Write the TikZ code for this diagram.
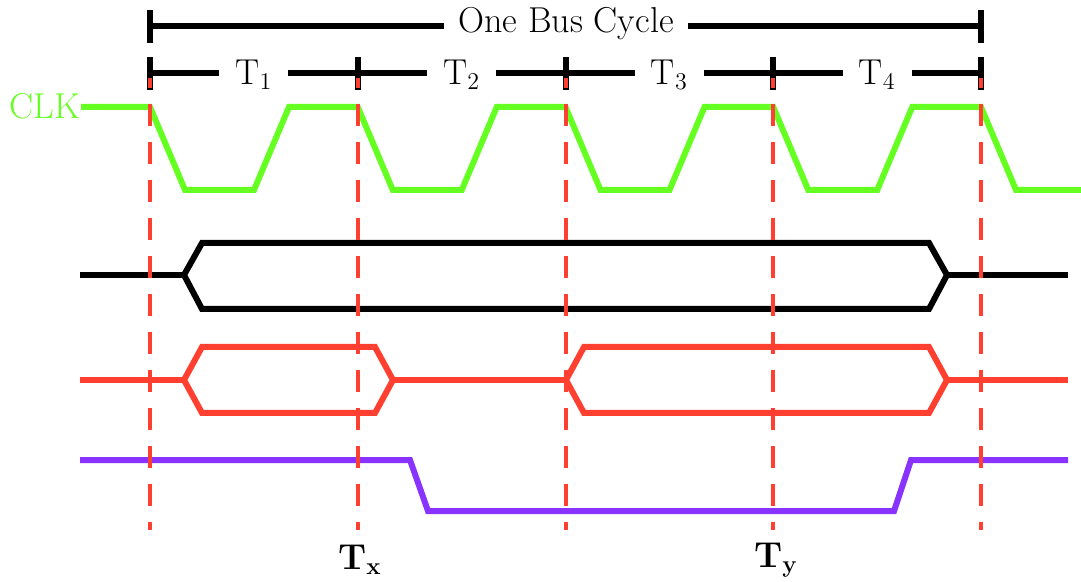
\documentclass[tikz,border=0pt]{standalone}
\usepackage{tikz}
\usetikzlibrary{positioning,calc}
\definecolor{clkgreen}{HTML}{66FF22}
\definecolor{sigred}{HTML}{FF4030}
\definecolor{sigpurple}{HTML}{8833FF}

\begin{document}
\begin{tikzpicture}[
  x=0.5pt,y=-0.5pt,
  wave/.style={line width=3pt,line join=miter},
  tick/.style={draw=black,line width=3pt},
  guide/.style={draw=sigred,line width=2pt,dash pattern=on 11pt off 8pt,dash phase=6pt},
  lbl/.style={font=\fontsize{18}{21}\selectfont,fill=white,inner ysep=1pt}
]
\useasboundingbox (0,0) rectangle (1081,582);
% bus cycle bracket
\draw[tick] (150,26) -- (981,26);
\draw[tick] (150,10) -- (150,43);
\draw[tick] (981,10) -- (981,43);
\node[lbl,inner xsep=7pt] (cyc) at (566,24) {One Bus Cycle};
% T-state brackets
\draw[tick] (150,73) -- (981,73);
\foreach \k in {0,...,4}
  \draw[tick] ({150+207.75*\k},57) -- ({150+207.75*\k},90);
\foreach \k/\name in {1/t1,2/t2,3/t3,4/t4}
  \node[lbl,inner xsep=8pt] (\name) at ({150+207.75*(\k-0.5)},75) {T$_{\k}$};
% clock
\node[text=clkgreen,font=\fontsize{18}{21}\selectfont,anchor=east,inner sep=0pt] (clk) at (81,106) {CLK};
\draw[wave,draw=clkgreen] (clk.east |- 0,107)
  \foreach \k in {0,...,3} {
    -- ({150+207.75*\k},107) -- ({185+207.75*\k},190)
    -- ({254+207.75*\k},190) -- ({289+207.75*\k},107)
  } -- (981,107) -- (1016,190) -- (1081,190);
% address bus
\draw[wave,draw=black] (80,275) -- (184,275);
\draw[wave,draw=black] (184,275) -- (202,243) -- (929,243) -- (947,275)
  -- (929,309) -- (202,309) -- cycle;
\draw[wave,draw=black] (947,275) -- (1068,275);
% data bus
\draw[wave,draw=sigred] (80,380) -- (184,380);
\draw[wave,draw=sigred] (184,380) -- (202,347) -- (375,347) -- (393,380)
  -- (375,413) -- (202,413) -- cycle;
\draw[wave,draw=sigred] (393,380) -- (566,380);
\draw[wave,draw=sigred] (566,380) -- (584,347) -- (929,347) -- (947,380)
  -- (929,413) -- (584,413) -- cycle;
\draw[wave,draw=sigred] (947,380) -- (1068,380);
% control
\draw[wave,draw=sigpurple] (80,460) -- (410,460) -- (428,511) -- (894,511) -- (911,460) -- (1068,460);
% guide lines
\foreach \k/\name in {0/g0,1/g1,2/g2,3/g3,4/g4} {
  \coordinate (\name) at ({150+207.75*\k},78);
  \draw[guide] (\name) -- ++(0,452);
}
% marks
\node[font=\fontsize{18}{21}\selectfont\bfseries] (tx) at (360,560) {T$_{\mathbf{x}}$};
\node[font=\fontsize{18}{21}\selectfont\bfseries] (ty) at (776,560) {T$_{\mathbf{y}}$};
\end{tikzpicture}
\end{document}
